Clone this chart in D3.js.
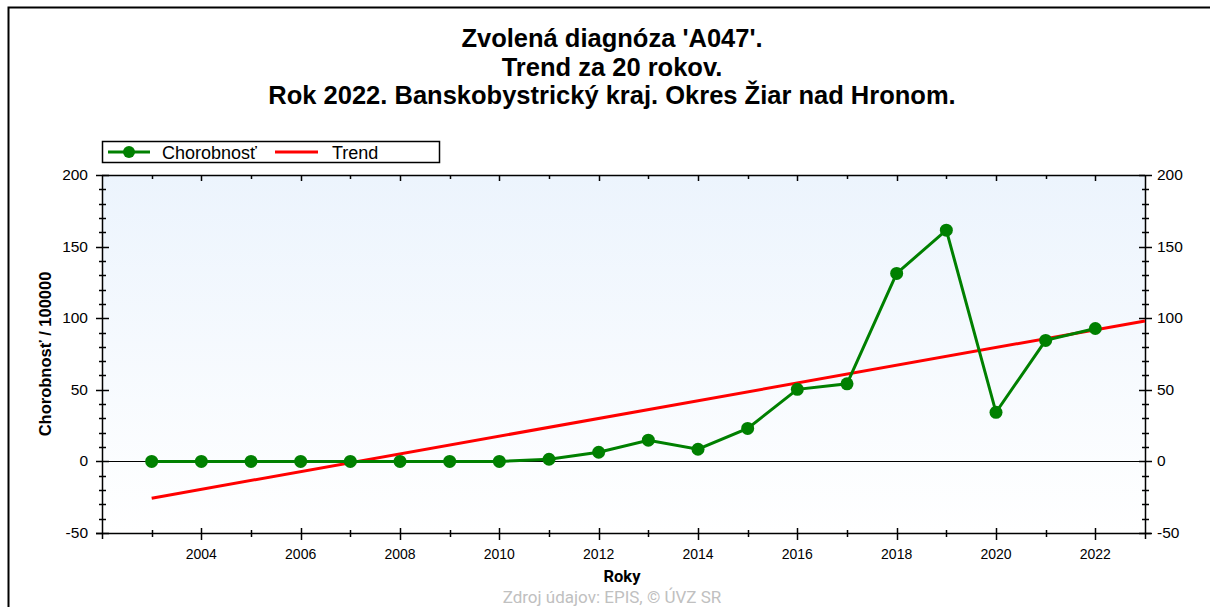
<!DOCTYPE html>
<html>
<head>
<meta charset="utf-8">
<script src="https://cdn.jsdelivr.net/npm/d3@7"></script>
<style>
  body { margin: 0; background: #fff; }
  svg { display: block; }
</style>
</head>
<body>
<svg id="chart" width="1210" height="607"></svg>
<script>
// values
const years = [2003, 2004, 2005, 2006, 2007, 2008, 2009, 2010, 2011, 2012,
               2013, 2014, 2015, 2016, 2017, 2018, 2019, 2020, 2021, 2022];
const chorobnost = [0, 0, 0, 0, 0, 0, 0, 0, 1.5, 6.4,
                    14.8, 8.5, 23, 50.3, 54.2, 131.3, 161.5, 34.3, 84.5, 92.8];
const trendYears = [2003, 2023];
const trendValues = [-25.7, 98.1];
const titleLines = ["Zvolená diagnóza 'A047'.", "Trend za 20 rokov.",
                    "Rok 2022. Banskobystrický kraj. Okres Žiar nad Hronom."];
const yTicks = [-50, 0, 50, 100, 150, 200];
const xTickYears = [2004, 2006, 2008, 2010, 2012, 2014, 2016, 2018, 2020, 2022];

const svg = d3.select("#chart");
const pLeft = 102, pRight = 1145, pTop = 175, pBottom = 533;
const arial = "Liberation Sans, Arial, sans-serif";

const x = d3.scaleLinear().domain([2002, 2023]).range([pLeft, pRight]);
const y = d3.scaleLinear().domain([-50, 200]).range([pBottom, pTop]);

// outer frame (left and top edges visible)
svg.append("path")
    .attr("d", `M8.5,607 V7.5 H1210`)
    .attr("fill", "none").attr("stroke", "#000").attr("stroke-width", 2);

// title
svg.append("g").selectAll("text")
    .data(titleLines)
    .enter().append("text")
    .attr("x", 612)
    .attr("y", (d, i) => 47 + i * 28.5)
    .attr("text-anchor", "middle")
    .attr("font-family", arial)
    .attr("font-weight", "bold")
    .attr("font-size", 25.5)
    .text(d => d);

// plot background gradient
const grad = svg.append("defs").append("linearGradient")
    .attr("id", "bg").attr("x1", 0).attr("y1", 0).attr("x2", 0).attr("y2", 1);
grad.append("stop").attr("offset", "0%").attr("stop-color", "#ecf4fd");
grad.append("stop").attr("offset", "100%").attr("stop-color", "#ffffff");

svg.append("rect")
    .attr("x", pLeft).attr("y", pTop)
    .attr("width", pRight - pLeft).attr("height", pBottom - pTop)
    .attr("fill", "url(#bg)");

// top border with inward ticks
svg.append("line")
    .attr("x1", pLeft).attr("x2", pRight).attr("y1", pTop + 0.5).attr("y2", pTop + 0.5)
    .attr("stroke", "#000").attr("stroke-width", 1.5);
svg.append("g").selectAll("line")
    .data(d3.range(2003, 2023))
    .enter().append("line")
    .attr("x1", d => Math.round(x(d)) + 0.5).attr("x2", d => Math.round(x(d)) + 0.5)
    .attr("y1", pTop).attr("y2", d => pTop + (d % 2 === 0 ? 6 : 4))
    .attr("stroke", "#000").attr("stroke-width", 1.5);

// bottom axis
const xAxis = svg.append("g").attr("transform", `translate(0,${pBottom})`);
xAxis.append("line")
    .attr("x1", pLeft - 6).attr("x2", pRight + 6).attr("y1", 0.5).attr("y2", 0.5)
    .attr("stroke", "#000").attr("stroke-width", 1.5);
xAxis.selectAll(".minor")
    .data(d3.range(2003, 2023))
    .enter().append("line")
    .attr("x1", d => Math.round(x(d)) + 0.5).attr("x2", d => Math.round(x(d)) + 0.5)
    .attr("y1", d => d % 2 === 0 ? -5 : -3).attr("y2", d => d % 2 === 0 ? 7 : 4)
    .attr("stroke", "#000").attr("stroke-width", 1.5);
xAxis.selectAll("text")
    .data(xTickYears)
    .enter().append("text")
    .attr("x", d => x(d)).attr("y", 26)
    .attr("text-anchor", "middle")
    .attr("font-family", arial)
    .attr("font-size", 14)
    .text(d => d);

svg.append("text")
    .attr("x", 622).attr("y", 582)
    .attr("text-anchor", "middle")
    .attr("font-family", "Roboto, sans-serif")
    .attr("font-weight", "bold")
    .attr("font-size", 16.5)
    .text("Roky");

// left and right axes
function yAxisAt(xPos, labelSide) {
    const g = svg.append("g");
    g.append("line")
        .attr("x1", xPos + 0.5).attr("x2", xPos + 0.5)
        .attr("y1", pTop).attr("y2", pBottom + 6)
        .attr("stroke", "#000").attr("stroke-width", 1.5);
    g.selectAll(".t")
        .data(d3.range(-50, 201, 10))
        .enter().append("line")
        .attr("y1", d => Math.round(y(d)) + 0.5).attr("y2", d => Math.round(y(d)) + 0.5)
        .attr("x1", d => xPos - (d % 50 === 0 ? 6 : 3))
        .attr("x2", d => xPos + (d % 50 === 0 ? 7 : 4))
        .attr("stroke", "#000").attr("stroke-width", 1.5);
    g.selectAll("text")
        .data(yTicks)
        .enter().append("text")
        .attr("x", labelSide < 0 ? xPos - 14 : xPos + 12)
        .attr("y", d => y(d) + 5)
        .attr("text-anchor", labelSide < 0 ? "end" : "start")
        .attr("font-family", arial)
        .attr("font-size", 15.5)
        .text(d => d);
}
yAxisAt(pLeft, -1);
yAxisAt(pRight, 1);

svg.append("text")
    .attr("transform", `translate(51,${(pTop + pBottom) / 2}) rotate(-90)`)
    .attr("text-anchor", "middle")
    .attr("font-family", arial)
    .attr("font-weight", "bold")
    .attr("font-size", 16.5)
    .text("Chorobnosť / 100000");

// zero line
svg.append("line")
    .attr("x1", pLeft).attr("x2", pRight)
    .attr("y1", Math.round(y(0)) + 0.5).attr("y2", Math.round(y(0)) + 0.5)
    .attr("stroke", "#000");

// trend
svg.append("path")
    .datum(trendYears.map((d, i) => [d, trendValues[i]]))
    .attr("d", d3.line().x(d => x(d[0])).y(d => y(d[1])))
    .attr("fill", "none").attr("stroke", "#ff0000").attr("stroke-width", 3);

// incidence series
const pts = years.map((d, i) => [d, chorobnost[i]]);
svg.append("path")
    .datum(pts)
    .attr("d", d3.line().x(d => x(d[0])).y(d => y(d[1])))
    .attr("fill", "none").attr("stroke", "#008000").attr("stroke-width", 3);
svg.append("g").selectAll("circle")
    .data(pts)
    .enter().append("circle")
    .attr("cx", d => x(d[0])).attr("cy", d => y(d[1]))
    .attr("r", 6.5).attr("fill", "#008000");

// legend
const lg = svg.append("g");
lg.append("rect")
    .attr("x", 102.5).attr("y", 141.5).attr("width", 337).attr("height", 21)
    .attr("fill", "#fff").attr("stroke", "#000").attr("stroke-width", 1.5);
lg.append("line").attr("x1", 108).attr("x2", 150).attr("y1", 152).attr("y2", 152)
    .attr("stroke", "#008000").attr("stroke-width", 3);
lg.append("circle").attr("cx", 129).attr("cy", 152).attr("r", 6).attr("fill", "#008000");
lg.append("text").attr("x", 162).attr("y", 158.5)
    .attr("font-family", arial).attr("font-size", 18)
    .text("Chorobnosť");
lg.append("line").attr("x1", 275).attr("x2", 318).attr("y1", 152).attr("y2", 152)
    .attr("stroke", "#ff0000").attr("stroke-width", 3);
lg.append("text").attr("x", 332).attr("y", 158.5)
    .attr("font-family", arial).attr("font-size", 18)
    .text("Trend");

// source note, sitting on the bottom edge
svg.append("text")
    .attr("x", 612).attr("y", 603)
    .attr("text-anchor", "middle")
    .attr("font-family", "Roboto, sans-serif")
    .attr("font-size", 17)
    .attr("fill", "#c0c0c0")
    .text("Zdroj údajov: EPIS, © ÚVZ SR");
</script>
</body>
</html>
